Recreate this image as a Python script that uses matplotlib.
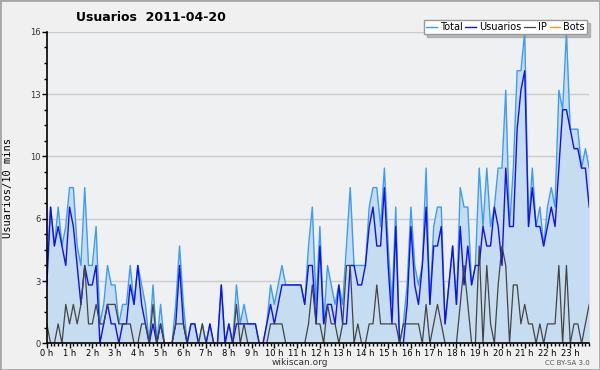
import numpy as np
import matplotlib
matplotlib.use('Agg')
from matplotlib import pyplot as plt
from matplotlib.patches import Rectangle

# 10-minute samples, 2011-04-20
usuarios = [3, 7, 5, 6, 5, 4, 7, 6, 4, 2,
            4, 3, 3, 4, 0, 1, 2, 1, 1, 0,
            1, 1, 3, 2, 4, 2, 1, 0, 1, 0,
            1, 0, 0, 0, 1, 4, 1, 0, 1, 1,
            0, 0, 0, 1, 0, 0, 3, 0, 1, 0,
            1, 1, 1, 1, 1, 1, 0, 0, 1, 2,
            1, 2, 3, 3, 3, 3, 3, 3, 2, 4,
            4, 1, 5, 1, 2, 2, 1, 3, 1, 1,
            4, 4, 3, 3, 4, 6, 7, 5, 5, 8,
            4, 1, 6, 0, 0, 2, 6, 3, 2, 4,
            7, 2, 5, 5, 6, 1, 3, 5, 2, 6,
            3, 5, 3, 4, 4, 6, 5, 5, 7, 6,
            4, 9, 6, 6, 11, 13, 14, 6, 8, 6,
            6, 5, 6, 7, 6, 9, 12, 12, 11, 10,
            10, 9, 9, 7]

ip = [1, 0, 0, 1, 0, 2, 1, 2, 1, 2,
      4, 1, 1, 2, 1, 1, 2, 2, 2, 1,
      1, 1, 1, 0, 0, 1, 1, 0, 2, 0,
      1, 0, 0, 0, 1, 1, 1, 0, 0, 0,
      0, 1, 0, 0, 0, 0, 0, 0, 0, 0,
      2, 0, 1, 0, 0, 0, 0, 0, 0, 1,
      1, 1, 1, 0, 0, 0, 0, 0, 0, 1,
      3, 1, 1, 0, 2, 1, 1, 0, 1, 4,
      4, 0, 1, 0, 0, 1, 1, 3, 1, 1,
      1, 1, 1, 0, 1, 1, 1, 1, 1, 0,
      2, 0, 1, 2, 1, 0, 0, 0, 0, 2,
      4, 2, 0, 0, 5, 0, 4, 1, 0, 3,
      5, 4, 0, 3, 3, 1, 2, 1, 1, 0,
      1, 0, 1, 1, 1, 4, 0, 4, 0, 1,
      1, 0, 1, 2]

total = [4, 7, 5, 7, 5, 6, 8, 8, 5, 4,
         8, 4, 4, 6, 1, 2, 4, 3, 3, 1,
         2, 2, 4, 2, 4, 3, 2, 0, 3, 0,
         2, 0, 0, 0, 2, 5, 2, 0, 1, 1,
         0, 1, 0, 1, 0, 0, 3, 0, 1, 0,
         3, 1, 2, 1, 1, 1, 0, 0, 1, 3,
         2, 3, 4, 3, 3, 3, 3, 3, 2, 5,
         7, 2, 6, 1, 4, 3, 2, 3, 2, 5,
         8, 4, 4, 4, 4, 7, 8, 8, 6, 9,
         5, 2, 7, 0, 1, 3, 7, 4, 3, 4,
         9, 2, 6, 7, 7, 1, 3, 5, 2, 8,
         7, 7, 3, 4, 9, 6, 9, 6, 7, 9,
         9, 13, 6, 9, 14, 14, 16, 6, 9, 6,
         7, 5, 7, 8, 7, 13, 12, 16, 11, 11,
         11, 9, 10, 9]

bots = [0] * 144

hours = ['{} h'.format(h) for h in range(24)]
yticks = [0, 3.2, 6.4, 9.6, 12.8, 16]
ylabels = ['0', '3', '6', '10', '13', '16']

x = np.arange(len(total))

fig = plt.figure(figsize=(6, 3.7), dpi=100, facecolor='#f0f0f0')
ax = fig.add_axes([0.078, 0.072, 0.904, 0.842])
ax.set_facecolor('#eef0f2')

ax.fill_between(x, total, color='#c6dcf0', lw=0, zorder=1)
ax.plot(x, total, color='#3d9cf5', lw=1.0, label='Total', zorder=2)
ax.plot(x, usuarios, color='#1010f0', lw=1.0, label='Usuarios', zorder=3)
ax.plot(x, ip, color='#444444', lw=0.9, label='IP', zorder=4)
ax.plot(x, bots, color='#ff9c1a', lw=1.0, label='Bots', zorder=1.5)

ax.set_xlim(0, 143)
ax.set_ylim(0, 16)
ax.set_xticks(np.arange(0, 144, 6))
ax.set_xticklabels(hours)
ax.set_xticks(x, minor=True)
ax.set_yticks(yticks)
ax.set_yticklabels(ylabels)
ax.set_yticks(np.arange(0, 16.01, 0.8), minor=True)
ax.grid(axis='y', color='#cccccc', lw=1)
ax.set_axisbelow(True)

for s in ['top', 'right']:
    ax.spines[s].set_visible(False)
ax.spines['left'].set_linewidth(1.2)
ax.spines['bottom'].set_linewidth(1.2)
ax.spines['left'].set_zorder(5)
ax.spines['bottom'].set_zorder(5)
ax.tick_params(axis='both', which='major', labelsize=6, colors='black',
               length=3.5, width=1, pad=0.5)
ax.tick_params(axis='both', which='minor', length=2.5, width=1)
ax.tick_params(axis='y', labelcolor='#333333', pad=1)

ax.set_ylabel('Usuarios/10 mins', family='DejaVu Sans Mono', fontsize=7.5,
              labelpad=12)
fig.text(0.252, 0.952, 'Usuarios  2011-04-20', fontsize=9, weight='bold',
         ha='center', va='center')
fig.text(0.5, 0.021, 'wikiscan.org', fontsize=6.5, ha='center', va='center',
         color='#333333')
fig.text(0.983, 0.018, 'CC BY-SA 3.0', fontsize=5, ha='right', va='center',
         color='#555555')

leg = ax.legend(loc='upper right', bbox_to_anchor=(0.978, 0.946),
                bbox_transform=fig.transFigure, ncol=4, fontsize=7,
                frameon=True, fancybox=False, shadow={'color': '#888888'},
                edgecolor='#999999', handlelength=1.1, handletextpad=0.3,
                columnspacing=0.3, borderpad=0.2, borderaxespad=0)
leg.get_frame().set_linewidth(1)
leg.set_zorder(10)

fig.patches.append(Rectangle((0, 0), 1, 1, transform=fig.transFigure,
                             fill=False, ec='#a8a8a8', lw=2))

fig.savefig('out.png', dpi=100, facecolor=fig.get_facecolor())
